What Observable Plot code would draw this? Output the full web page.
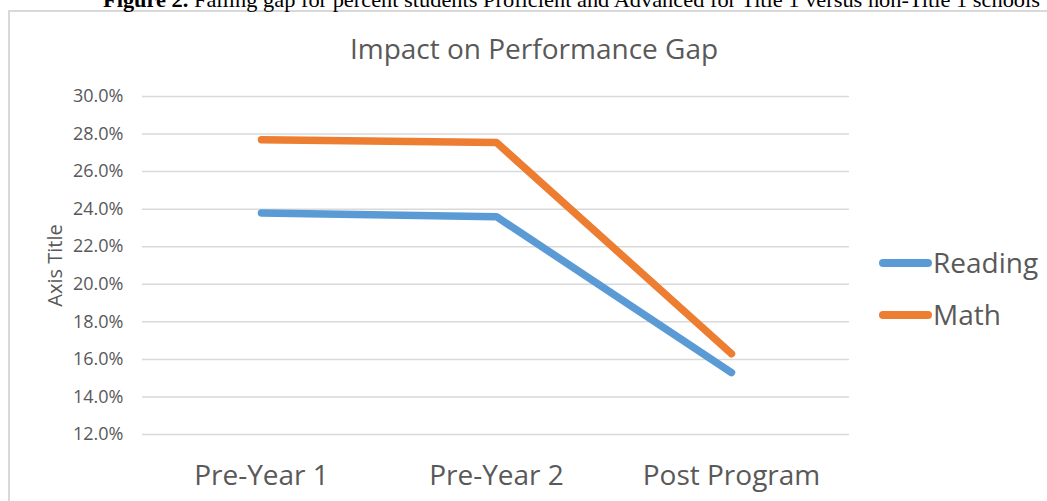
<!DOCTYPE html>
<html>
<head>
<meta charset="utf-8">
<script src="https://cdn.jsdelivr.net/npm/d3@7"></script>
<script src="https://cdn.jsdelivr.net/npm/@observablehq/plot@0.6"></script>
<style>
  html, body { margin: 0; padding: 0; background: #fff; }
  #wrap { position: relative; width: 1047px; height: 501px; overflow: hidden; background: #fff; }
  #frame { position: absolute; left: 8px; top: 10px; width: 1200px; height: 600px;
           border-top: 2px solid #d9d9d9; border-left: 2px solid #d9d9d9; }
  #caption { position: absolute; left: 0; top: 0; }
  #title { position: absolute; left: 0; width: 1068px; top: 34px; text-align: center;
           font-family: "Open Sans", sans-serif; font-size: 28px; line-height: 28px; color: #595959; white-space: nowrap; }
  #chart { position: absolute; left: 0; top: 0; }
  .lg-row { position: absolute; left: 879px; height: 28px; line-height: 28px;
            font-family: "Open Sans", sans-serif; font-size: 28px; color: #595959; white-space: nowrap; }
  .lg-sw { position: absolute; left: 0; top: 11px; width: 53px; height: 7.5px; border-radius: 4px; }
  .lg-tx { position: absolute; left: 54px; top: 0; }
</style>
</head>
<body>
<div id="wrap">
  <div id="frame"></div>
  <svg id="caption" width="1047" height="14">
    <text x="103" y="7" font-family="'Liberation Serif', 'Times New Roman', serif" font-size="21" fill="#000" textLength="937" lengthAdjust="spacingAndGlyphs"><tspan font-weight="bold">Figure 2.</tspan>  Falling gap for percent students Proficient and Advanced for Title 1 versus non-Title 1 schools</text>
  </svg>
  <div id="title">Impact on Performance Gap</div>
  <div id="chart"></div>
  <div id="legend"></div>
</div>
<script>
const categories = ["Pre-Year 1", "Pre-Year 2", "Post Program"];
const seriesNames = ["Reading", "Math"];
const seriesColors = ["#5B9BD5", "#ED7D31"];
const reading = [23.8, 23.6, 15.3];
const math = [27.7, 27.55, 16.3];
const yTicks = [12, 14, 16, 18, 20, 22, 24, 26, 28, 30];
const yAxisTitle = "Axis Title";

const seriesValues = {Reading: reading, Math: math};
const rows = [];
for (const s of seriesNames) {
  categories.forEach((c, i) => rows.push({series: s, category: c, value: seriesValues[s][i]}));
}

const chart = Plot.plot({
  width: 1047,
  height: 501,
  marginLeft: 142,
  marginRight: 198,
  marginTop: 96,
  marginBottom: 67,
  style: {fontFamily: "'Open Sans', sans-serif", background: "transparent", color: "#595959", overflow: "visible"},
  x: {type: "point", domain: categories, padding: 0.5, label: null},
  y: {domain: [12, 30], label: null},
  color: {domain: seriesNames, range: seriesColors},
  marks: [
    Plot.gridY(yTicks, {stroke: "#d9d9d9", strokeOpacity: 1, strokeWidth: 1.5}),
    Plot.axisY(yTicks, {tickSize: 0, tickPadding: 19, fontSize: 18, fill: "#595959",
      tickFormat: d => d.toFixed(1) + "%", label: null}),
    Plot.axisX({tickSize: 0, tickPadding: 31, fontSize: 28, fill: "#595959", label: null}),
    Plot.text([yAxisTitle], {frameAnchor: "left", textAnchor: "middle", rotate: -90, dx: -81, lineAnchor: "bottom",
      fontSize: 20, fill: "#595959"}),
    Plot.line(rows, {x: "category", y: "value", z: "series", stroke: "series",
      strokeWidth: 7.5, strokeLinecap: "round", strokeLinejoin: "round"})
  ]
});
document.getElementById("chart").appendChild(chart);

const legend = document.getElementById("legend");
const legendTops = [248, 300];
seriesNames.forEach((s, i) => {
  const row = document.createElement("div");
  row.className = "lg-row";
  row.style.top = legendTops[i] + "px";
  const sw = document.createElement("span");
  sw.className = "lg-sw";
  sw.style.background = seriesColors[i];
  const tx = document.createElement("span");
  tx.className = "lg-tx";
  tx.textContent = s;
  row.appendChild(sw);
  row.appendChild(tx);
  legend.appendChild(row);
});
</script>
</body>
</html>
